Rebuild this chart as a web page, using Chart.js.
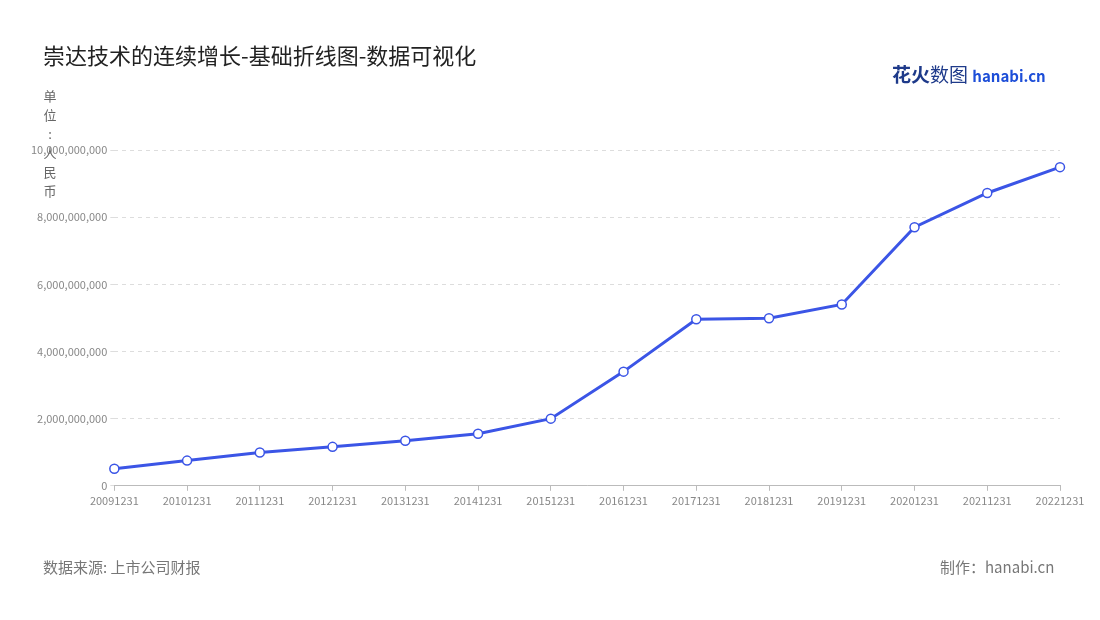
<!DOCTYPE html>
<html><head><meta charset="utf-8">
<script src="https://cdn.jsdelivr.net/npm/chart.js@4"></script>
<style>
body{margin:0;width:1100px;height:620px;background:#fff;font-family:"Noto Sans CJK SC","Noto Sans",sans-serif;position:relative;overflow:hidden}
#c{position:absolute;left:0;top:0}
.t{position:absolute;white-space:nowrap}
</style></head><body>
<canvas id="c" width="1100" height="620"></canvas>
<div class="t" style="left:43px;top:38px;font-size:22px;color:#222">崇达技术的连续增长-基础折线图-数据可视化</div>
<div class="t" style="left:892px;top:60px;font-size:19px;font-weight:bold;color:#1e3a8a">花火<span style="font-weight:normal">数图</span> <span style="font-size:15px;color:#1d4ed8">hanabi.cn</span></div>
<div class="t" style="left:43px;top:86px;font-size:13px;color:#666;width:14px;line-height:19px;text-align:center">单<br>位<br>:<br>人<br>民<br>币</div>
<div class="t" style="left:43px;top:556px;font-size:15px;color:#777">数据来源: 上市公司财报</div>
<div class="t" style="left:940px;top:556px;font-size:15px;color:#777">制作：hanabi.cn</div>
<script>
const categories=["20091231","20101231","20111231","20121231","20131231","20141231","20151231","20161231","20171231","20181231","20191231","20201231","20211231","20221231"];
const revenue=[510000000,750000000,990000000,1160000000,1340000000,1550000000,2000000000,3400000000,4960000000,4990000000,5400000000,7700000000,8720000000,9490000000];
const tf={size:11,family:'"Noto Sans CJK SC","Noto Sans",sans-serif'};
new Chart(document.getElementById('c'),{type:'line',
data:{labels:categories,datasets:[{data:revenue,borderColor:'#3b55e6',borderWidth:3,pointBackgroundColor:'#fff',pointBorderColor:'#3b55e6',pointBorderWidth:1.5,pointRadius:4.5,tension:0}]},
options:{responsive:false,animation:false,
layout:{padding:{left:28,right:40,top:150,bottom:110}},
plugins:{legend:{display:false},tooltip:{enabled:false}},
scales:{x:{offset:false,grid:{display:true,drawOnChartArea:false,tickLength:5,color:'#bbb'},border:{color:'#bbb'},ticks:{color:'#888',font:tf,maxRotation:0,autoSkip:false}},
y:{min:0,max:10000000000,ticks:{stepSize:2000000000,color:'#888',font:tf,callback:v=>v.toLocaleString('en-US')},grid:{color:'#ddd',tickLength:4},border:{display:false,dash:[4,4]}}}}});
</script>
</body></html>
